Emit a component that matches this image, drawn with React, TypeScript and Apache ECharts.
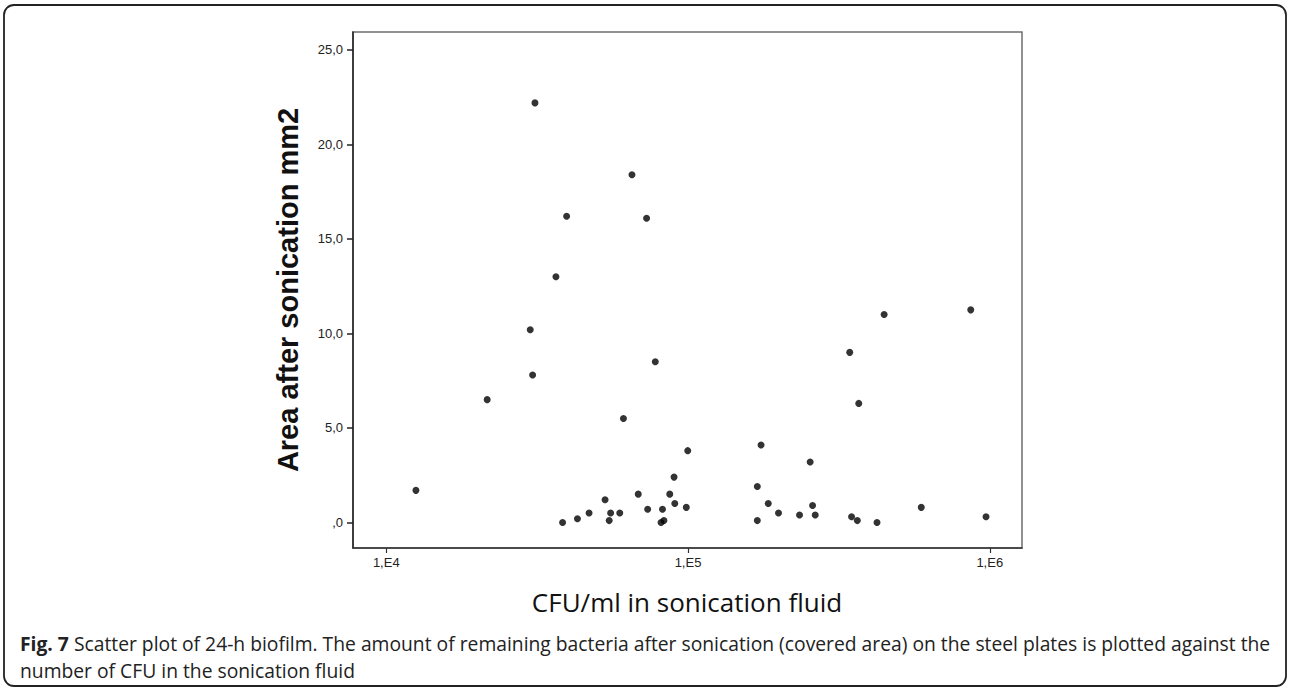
import React, { useEffect, useRef } from "react";
import * as echarts from "echarts";

// CFU/ml in sonication fluid (x, log scale)
const cfuPerMl = [
  31100, 65200, 39600, 72900, 36500, 446700, 865000, 30000, 343500, 77900,
  30550, 21600, 368000, 61100, 174600, 99800, 254000, 89900, 12540, 169700,
  68400, 87000, 53100, 90400, 184500, 258700, 98700, 593000, 73500, 82300,
  47000, 55400, 59400, 199500, 234200, 264000, 348400, 972000, 43000, 54800,
  83200, 169700, 364000, 38400, 81400, 423000,
];
// Area after sonication mm2 (y)
const areaMm2 = [
  22.2, 18.4, 16.2, 16.1, 13.0, 11.0, 11.25, 10.2, 9.0, 8.5,
  7.8, 6.5, 6.3, 5.5, 4.1, 3.8, 3.2, 2.4, 1.7, 1.9,
  1.5, 1.5, 1.2, 1.0, 1.0, 0.9, 0.8, 0.8, 0.7, 0.7,
  0.5, 0.5, 0.5, 0.5, 0.4, 0.4, 0.3, 0.3, 0.2, 0.1,
  0.1, 0.1, 0.1, 0.0, 0.0, 0.0,
];
const xTickValues = [1e4, 1e5, 1e6];
const yTickValues = [0, 5, 10, 15, 20, 25];
const xTitle = "CFU/ml in sonication fluid";
const yTitle = "Area after sonication mm2";
const captionBold = "Fig. 7";
const captionLine1 =
  " Scatter plot of 24-h biofilm. The amount of remaining bacteria after sonication (covered area) on the steel plates is plotted against the";
const captionLine2 = "number of CFU in the sonication fluid";

export default function App() {
  const ref = useRef<HTMLDivElement>(null);
  useEffect(() => {
    const chart = echarts.init(ref.current!, null, { renderer: "svg" });
    const points = cfuPerMl.map((x, i) => [x, areaMm2[i]]);
    chart.setOption({
      animation: false,
      backgroundColor: "#ffffff",
      grid: {
        left: 353,
        top: 32,
        width: 669,
        height: 516,
        show: true,
        borderColor: "#6e6e6e",
        borderWidth: 1.5,
        backgroundColor: "transparent",
      },
      xAxis: {
        type: "log",
        logBase: 10,
        min: 7758,
        max: 1279000,
        axisLine: { show: true, onZero: false, lineStyle: { color: "#333", width: 1.5 } },
        axisTick: {
          show: true,
          length: 5,
          customValues: xTickValues,
          lineStyle: { color: "#333", width: 1.2 },
        },
        axisLabel: {
          customValues: xTickValues,
          margin: 8,
          color: "#222",
          fontSize: 13,
          fontFamily: "Liberation Sans",
          formatter: (v: number) => "1,E" + Math.round(Math.log10(v)),
        },
        splitLine: { show: false },
        minorTick: { show: false },
      },
      yAxis: {
        type: "value",
        min: -1.35,
        max: 25.95,
        axisLine: { show: true, onZero: false, lineStyle: { color: "#222", width: 1.5 } },
        axisTick: {
          show: true,
          length: 6,
          customValues: yTickValues,
          lineStyle: { color: "#222", width: 1.5 },
        },
        axisLabel: {
          customValues: yTickValues,
          margin: 10,
          color: "#222",
          fontSize: 13,
          fontFamily: "Liberation Sans",
          formatter: (v: number) =>
            v === 0 ? ",0" : v.toFixed(1).replace(".", ","),
        },
        splitLine: { show: false },
      },
      series: [
        {
          type: "scatter",
          data: points,
          symbol: "circle",
          symbolSize: 7,
          itemStyle: { color: "#000" },
        },
      ],
      graphic: [
        {
          type: "rect",
          silent: true,
          z: -10,
          shape: { x: 4, y: 5, width: 1282, height: 681, r: 10 },
          style: { fill: "none", stroke: "#222", lineWidth: 1.8 },
        },
        {
          type: "text",
          x: 288,
          y: 290,
          rotation: Math.PI / 2,
          style: {
            text: yTitle,
            fill: "#111",
            font: 'bold 29px "Liberation Sans"',
            align: "center",
            verticalAlign: "middle",
          },
        },
        {
          type: "text",
          x: 687,
          y: 602,
          style: {
            text: xTitle,
            fill: "#111",
            font: '26px "Open Sans"',
            align: "center",
            verticalAlign: "middle",
          },
        },
        {
          type: "text",
          x: 20,
          y: 630,
          style: {
            text: "{b|" + captionBold + "}{n|" + captionLine1 + "}\n{n|" + captionLine2 + "}",
            align: "left",
            verticalAlign: "top",
            rich: {
              b: {
                fontFamily: "Open Sans",
                fontWeight: "bold",
                fontSize: 19.3,
                lineHeight: 27,
                fill: "#222",
              },
              n: {
                fontFamily: "Open Sans",
                fontSize: 19.3,
                lineHeight: 27,
                fill: "#222",
              },
            },
          },
        },
      ],
    });
    return () => chart.dispose();
  }, []);
  return (
    <div
      ref={ref}
      style={{
        position: "fixed",
        left: 0,
        top: 0,
        width: 1290,
        height: 692,
        background: "#fff",
      }}
    />
  );
}
